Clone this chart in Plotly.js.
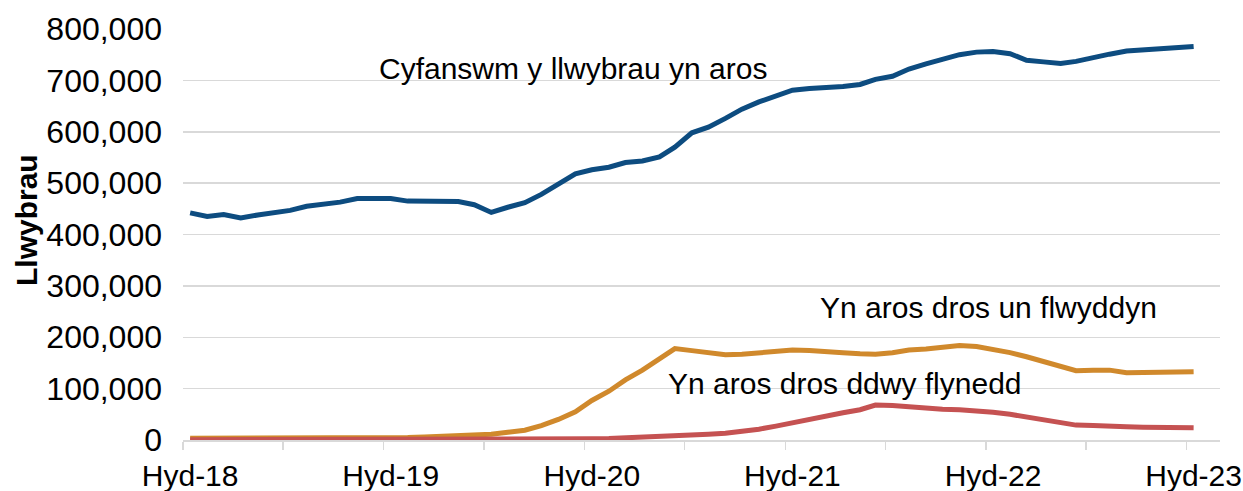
<!DOCTYPE html>
<html>
<head>
<meta charset="utf-8">
<script src="https://cdn.plot.ly/plotly-3.0.1.min.js"></script>
<style>html,body{margin:0;padding:0;background:#fff;}#chart{width:1243px;height:491px;}</style>
</head>
<body>
<div id="chart"></div>
<script>
const months = [
 "2018-10","2018-11","2018-12","2019-01","2019-02","2019-03","2019-04","2019-05","2019-06","2019-07","2019-08","2019-09",
 "2019-10","2019-11","2019-12","2020-01","2020-02","2020-03","2020-04","2020-05","2020-06","2020-07","2020-08","2020-09",
 "2020-10","2020-11","2020-12","2021-01","2021-02","2021-03","2021-04","2021-05","2021-06","2021-07","2021-08","2021-09",
 "2021-10","2021-11","2021-12","2022-01","2022-02","2022-03","2022-04","2022-05","2022-06","2022-07","2022-08","2022-09",
 "2022-10","2022-11","2022-12","2023-01","2023-02","2023-03","2023-04","2023-05","2023-06","2023-07","2023-08","2023-09",
 "2023-10"
];
const totalWaiting = [
 442000,435000,439000,432000,438000,442000,447000,455000,459000,463000,470000,470000,
 470000,465000,464000,464000,464000,458000,443000,453000,462000,478000,497000,518000,
 526000,531000,540000,543000,551000,570000,598000,609000,626000,644000,658000,670000,
 681000,684000,685000,688000,692000,702000,708000,722000,732000,742000,750000,755000,
 756000,752000,739000,736000,733000,737000,745000,751000,757000,759000,762000,763000,
 766000
];
const overOneYear = [
 3500,3500,3500,3500,3500,3000,3000,3000,3000,3000,3500,3500,
 4000,5000,6000,7000,7000,9000,11000,15000,19000,28000,40000,55000,
 77000,95000,117000,136000,157000,178000,174000,170000,166000,167000,169000,172000,
 175000,174000,173000,170000,168000,167000,170000,175000,177000,181000,184000,182000,
 177000,170000,162000,153000,145000,135000,136000,136000,131000,132000,133000,132000,
 133000
];
const overTwoYears = [
 500,500,500,500,500,500,500,500,500,500,500,500,
 500,500,500,500,500,500,500,700,1000,1500,2000,2000,
 2500,3000,4000,5000,6000,8000,9000,11000,13000,16000,21000,27000,
 34000,40000,46000,53000,59000,68000,67000,64000,62000,60000,59000,57000,
 54000,50000,45000,41000,36000,29000,28000,28000,26000,25000,25000,24000,
 24000
];
const labelMonths = ["2018-10","2019-10","2020-10","2021-10","2022-10","2023-10"];
const tickLabels = ["Hyd-18","Hyd-19","Hyd-20","Hyd-21","Hyd-22","Hyd-23"];
const seriesNames = ["Cyfanswm y llwybrau yn aros","Yn aros dros un flwyddyn","Yn aros dros ddwy flynedd"];
const yTitle = "Llwybrau";

const xs = months.map(m => m + "-14");
const FONT = "Liberation Sans, Arial, sans-serif";
const FS = 30;

const traces = [
 {x: xs, y: overOneYear, name: seriesNames[1], type: "scatter", mode: "lines", line: {color: "#D0892C", width: 5}},
 {x: xs, y: overTwoYears, name: seriesNames[2], type: "scatter", mode: "lines", line: {color: "#C55252", width: 5}},
 {x: xs, y: totalWaiting, name: seriesNames[0], type: "scatter", mode: "lines", line: {color: "#0D4C80", width: 5}}
];

const layout = {
 width: 1243, height: 491,
 margin: {l: 183, r: 23, t: 29, b: 51},
 showlegend: false,
 paper_bgcolor: "#fff", plot_bgcolor: "#fff",
 font: {family: FONT, size: FS, color: "#000"},
 xaxis: {
  type: "date",
  range: ["2018-10-01", "2023-12-01"],
  tickmode: "array",
  tickvals: labelMonths.map(m => m + "-14"),
  ticktext: tickLabels,
  ticks: "outside", ticklen: 8, tickcolor: "rgba(0,0,0,0)",
  minor: {tick0: "2018-10-01", dtick: "M6", ticks: "outside", ticklen: 8, tickwidth: 1.5, tickcolor: "#d9d9d9", showgrid: false},
  showline: true, linecolor: "#d9d9d9", linewidth: 1.5,
  showgrid: false, zeroline: false,
  tickfont: {family: FONT, size: FS, color: "#000"}
 },
 yaxis: {
  range: [0, 800000],
  dtick: 100000,
  tickformat: ",",
  showgrid: true, gridcolor: "#d9d9d9", gridwidth: 1.5,
  zeroline: false, showline: false, ticks: "",
  ticklabelstandoff: 20,
  tickfont: {family: FONT, size: 32, color: "#000"}
 },
 annotations: [
  {text: yTitle, xref: "paper", yref: "paper", x: (26-183)/1037, y: (440-220)/411, xanchor: "center", yanchor: "middle", textangle: -90, showarrow: false, font: {family: FONT, size: FS, color: "#000", weight: "bold"}},
  {text: seriesNames[0], xref: "paper", yref: "paper", x: (377-183)/1037, y: (440-68)/411, xanchor: "left", yanchor: "middle", showarrow: false, font: {family: FONT, size: FS, color: "#000"}},
  {text: seriesNames[1], xref: "paper", yref: "paper", x: (818-183)/1037, y: (440-307)/411, xanchor: "left", yanchor: "middle", showarrow: false, font: {family: FONT, size: FS, color: "#000"}},
  {text: seriesNames[2], xref: "paper", yref: "paper", x: (666-183)/1037, y: (440-383)/411, xanchor: "left", yanchor: "middle", showarrow: false, font: {family: FONT, size: FS, color: "#000"}}
 ]
};

Plotly.newPlot("chart", traces, layout, {displayModeBar: false, staticPlot: true});
</script>
</body>
</html>
